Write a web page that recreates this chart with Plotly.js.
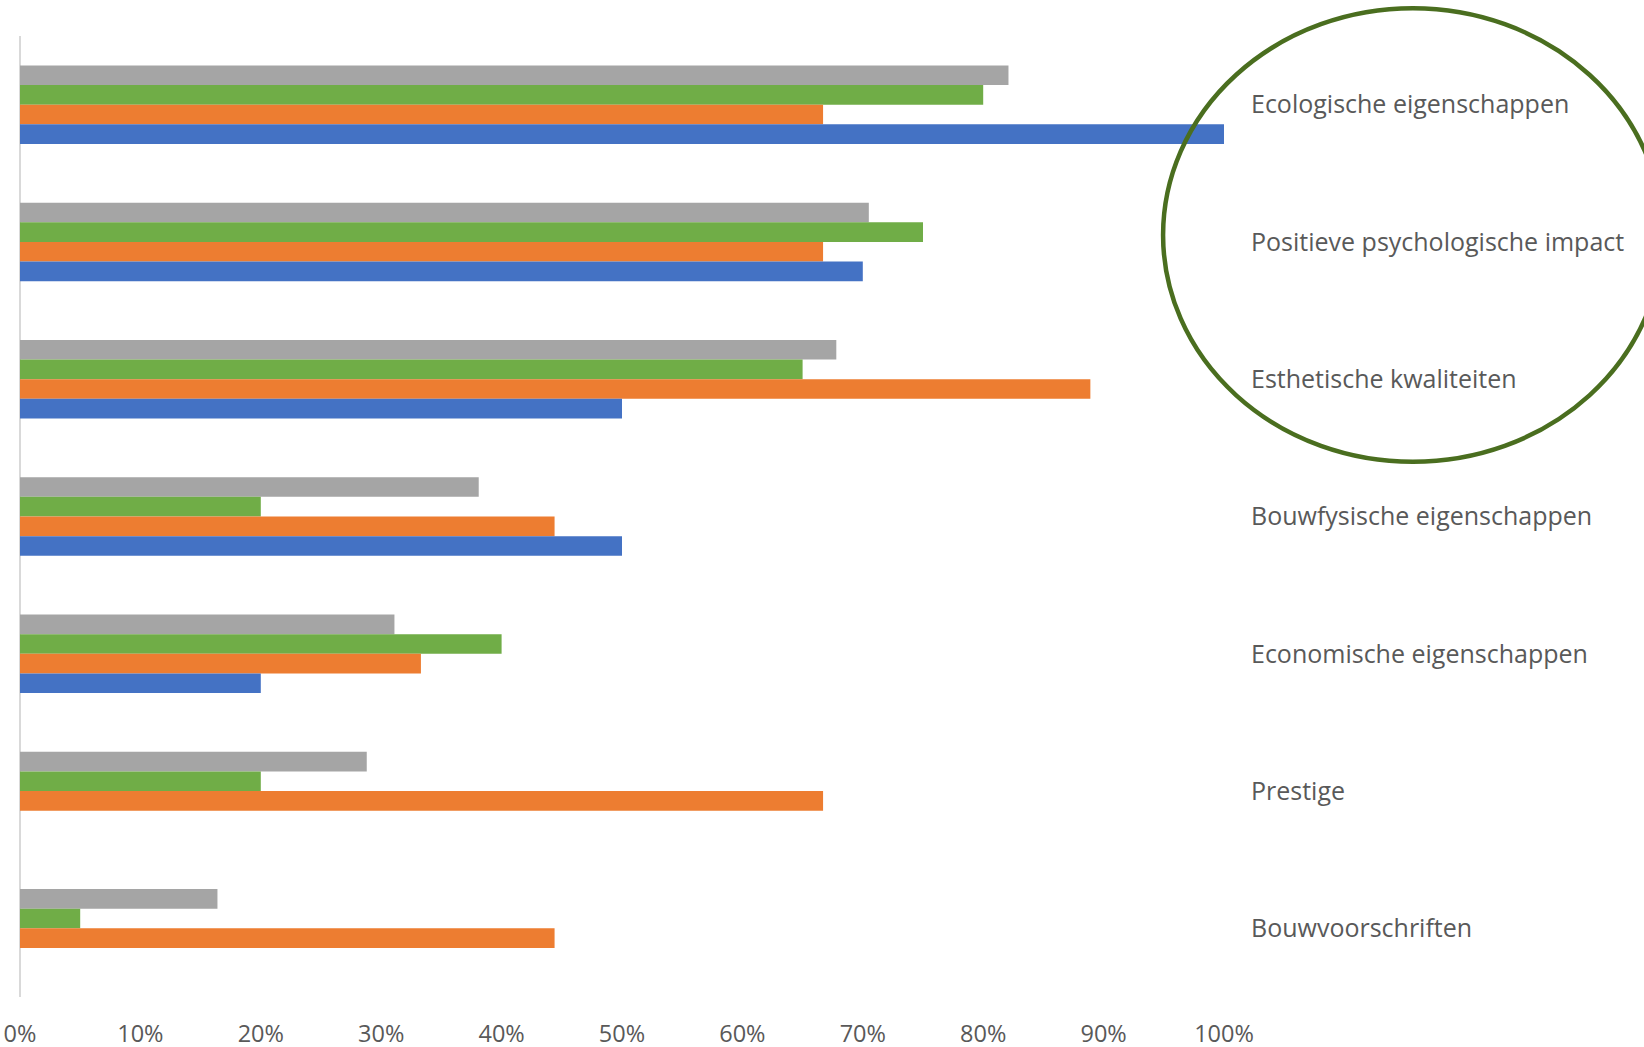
<!DOCTYPE html>
<html>
<head>
<meta charset="utf-8">
<script src="https://cdn.plot.ly/plotly-3.0.1.min.js"></script>
<style>html,body{margin:0;padding:0;background:#fff;}#chart{width:1644px;height:1047px;}</style>
</head>
<body>
<div id="chart"></div>
<script>
// Categories, top to bottom as shown
const categories = [
  "Ecologische eigenschappen",
  "Positieve psychologische impact",
  "Esthetische kwaliteiten",
  "Bouwfysische eigenschappen",
  "Economische eigenschappen",
  "Prestige",
  "Bouwvoorschriften"
];
// Series values (fractions), drawn top to bottom within each group
const seriesGrey   = [0.821, 0.705, 0.678, 0.381, 0.311, 0.288, 0.164];
const seriesGreen  = [0.80, 0.75, 0.65, 0.20, 0.40, 0.20, 0.05];
const seriesOrange = [0.667, 0.667, 0.889, 0.444, 0.333, 0.667, 0.444];
const seriesBlue   = [1.00, 0.70, 0.50, 0.50, 0.20, null, null];
const seriesNames  = ["Reeks 4", "Reeks 3", "Reeks 2", "Reeks 1"];
const xTickVals = [0, 0.1, 0.2, 0.3, 0.4, 0.5, 0.6, 0.7, 0.8, 0.9, 1.0];

const colors = ["#A5A5A5", "#70AD47", "#ED7D31", "#4472C4"];
const allSeries = [seriesGrey, seriesGreen, seriesOrange, seriesBlue];

const traces = allSeries.map((vals, i) => ({
  type: "bar",
  orientation: "h",
  name: seriesNames[i],
  y: categories,
  x: vals,
  marker: { color: colors[i], line: { width: 0 } },
  hoverinfo: "x+y"
}));

const font = "'Open Sans', Lato, sans-serif";

const layout = {
  width: 1644,
  height: 1047,
  paper_bgcolor: "#ffffff",
  plot_bgcolor: "#ffffff",
  showlegend: false,
  barmode: "group",
  bargap: 0.428,
  bargroupgap: 0,
  margin: { l: 20, r: 420, t: 36, b: 50, pad: 0 },
  font: { family: font, color: "#595959" },
  xaxis: {
    range: [0, 1],
    tickvals: xTickVals,
    tickformat: ".0%",
    showgrid: false,
    showline: false,
    zeroline: true,
    zerolinecolor: "#d9d9d9",
    zerolinewidth: 2,
    ticks: "",
    ticklabelstandoff: 20,
    tickfont: { family: font, size: 23.5, color: "#595959" },
    fixedrange: true
  },
  yaxis: {
    type: "category",
    autorange: "reversed",
    side: "right",
    showgrid: false,
    showline: false,
    zeroline: false,
    ticks: "",
    ticklabelstandoff: 26,
    automargin: false,
    tickfont: { family: font, size: 25, color: "#595959" },
    fixedrange: true
  },
  shapes: [{
    type: "circle",
    xref: "paper",
    yref: "paper",
    x0: 0.9494, x1: 1.3643,
    y0: 0.557, y1: 1.0288,
    line: { color: "#4A6E1F", width: 4.5 },
    fillcolor: "rgba(0,0,0,0)",
    layer: "above"
  }]
};

Plotly.newPlot("chart", traces, layout, { displayModeBar: false, staticPlot: true });
</script>
</body>
</html>
